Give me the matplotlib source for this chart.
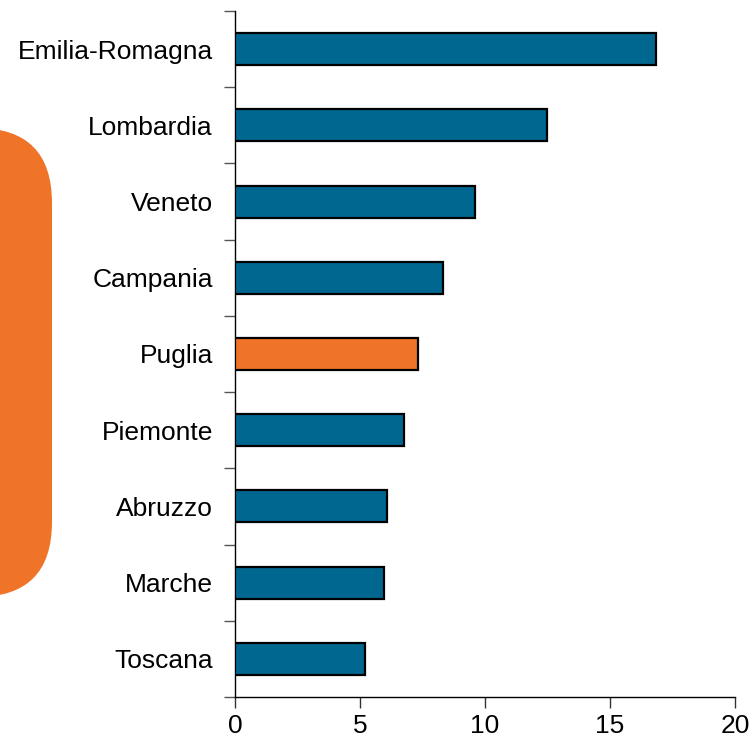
import matplotlib
matplotlib.use("Agg")
import matplotlib.pyplot as plt
from matplotlib.patches import FancyBboxPatch
from matplotlib.transforms import IdentityTransform
import numpy as np

regions = ["Emilia-Romagna", "Lombardia", "Veneto", "Campania", "Puglia",
           "Piemonte", "Abruzzo", "Marche", "Toscana"]
values = [16.85, 12.47, 9.6, 8.33, 7.33, 6.77, 6.09, 5.97, 5.2]
highlight = "Puglia"
x_ticks = [0, 5, 10, 15, 20]

blue = "#006890"
orange = "#F07427"

plt.rcParams['font.family'] = ['Liberation Sans', 'DejaVu Sans']

W, H = 753, 741
fig = plt.figure(figsize=(W / 100, H / 100), dpi=100)
ax = fig.add_axes([235 / W, 1 - 697 / H, (735 - 235) / W, (697 - 11) / H])

n = len(regions)
ypos = np.arange(n)[::-1]
colors = [orange if r == highlight else blue for r in regions]
ax.barh(ypos, values, height=0.42, color=colors, edgecolor="black", linewidth=1.6, zorder=3)

ax.set_xlim(0, 20)
ax.set_ylim(-0.5, n - 0.5)
ax.set_xticks(x_ticks)
ax.set_xticklabels([str(t) for t in x_ticks], fontsize=19)
ax.set_yticks(ypos)
ax.set_yticklabels(regions, fontsize=19)
ax.set_yticks(np.arange(n + 1) - 0.5, minor=True)

ax.tick_params(axis="y", which="major", length=0, pad=16)
ax.tick_params(axis="y", which="minor", length=8, width=1, color="#555555", direction="out")
ax.tick_params(axis="x", which="major", length=8, width=1, color="#333333", direction="out", pad=4)

for s in ["top", "right"]:
    ax.spines[s].set_visible(False)
for s in ["left", "bottom"]:
    ax.spines[s].set_linewidth(1.0)
    ax.spines[s].set_color("black")

# decorative rounded shape on the left
shape = FancyBboxPatch((-80, H - 597), 132, 597 - 128,
                       boxstyle="round,pad=0,rounding_size=75",
                       transform=IdentityTransform(), facecolor=orange,
                       edgecolor="none", zorder=0)
fig.patches.append(shape)

fig.savefig("out.png", dpi=100)
